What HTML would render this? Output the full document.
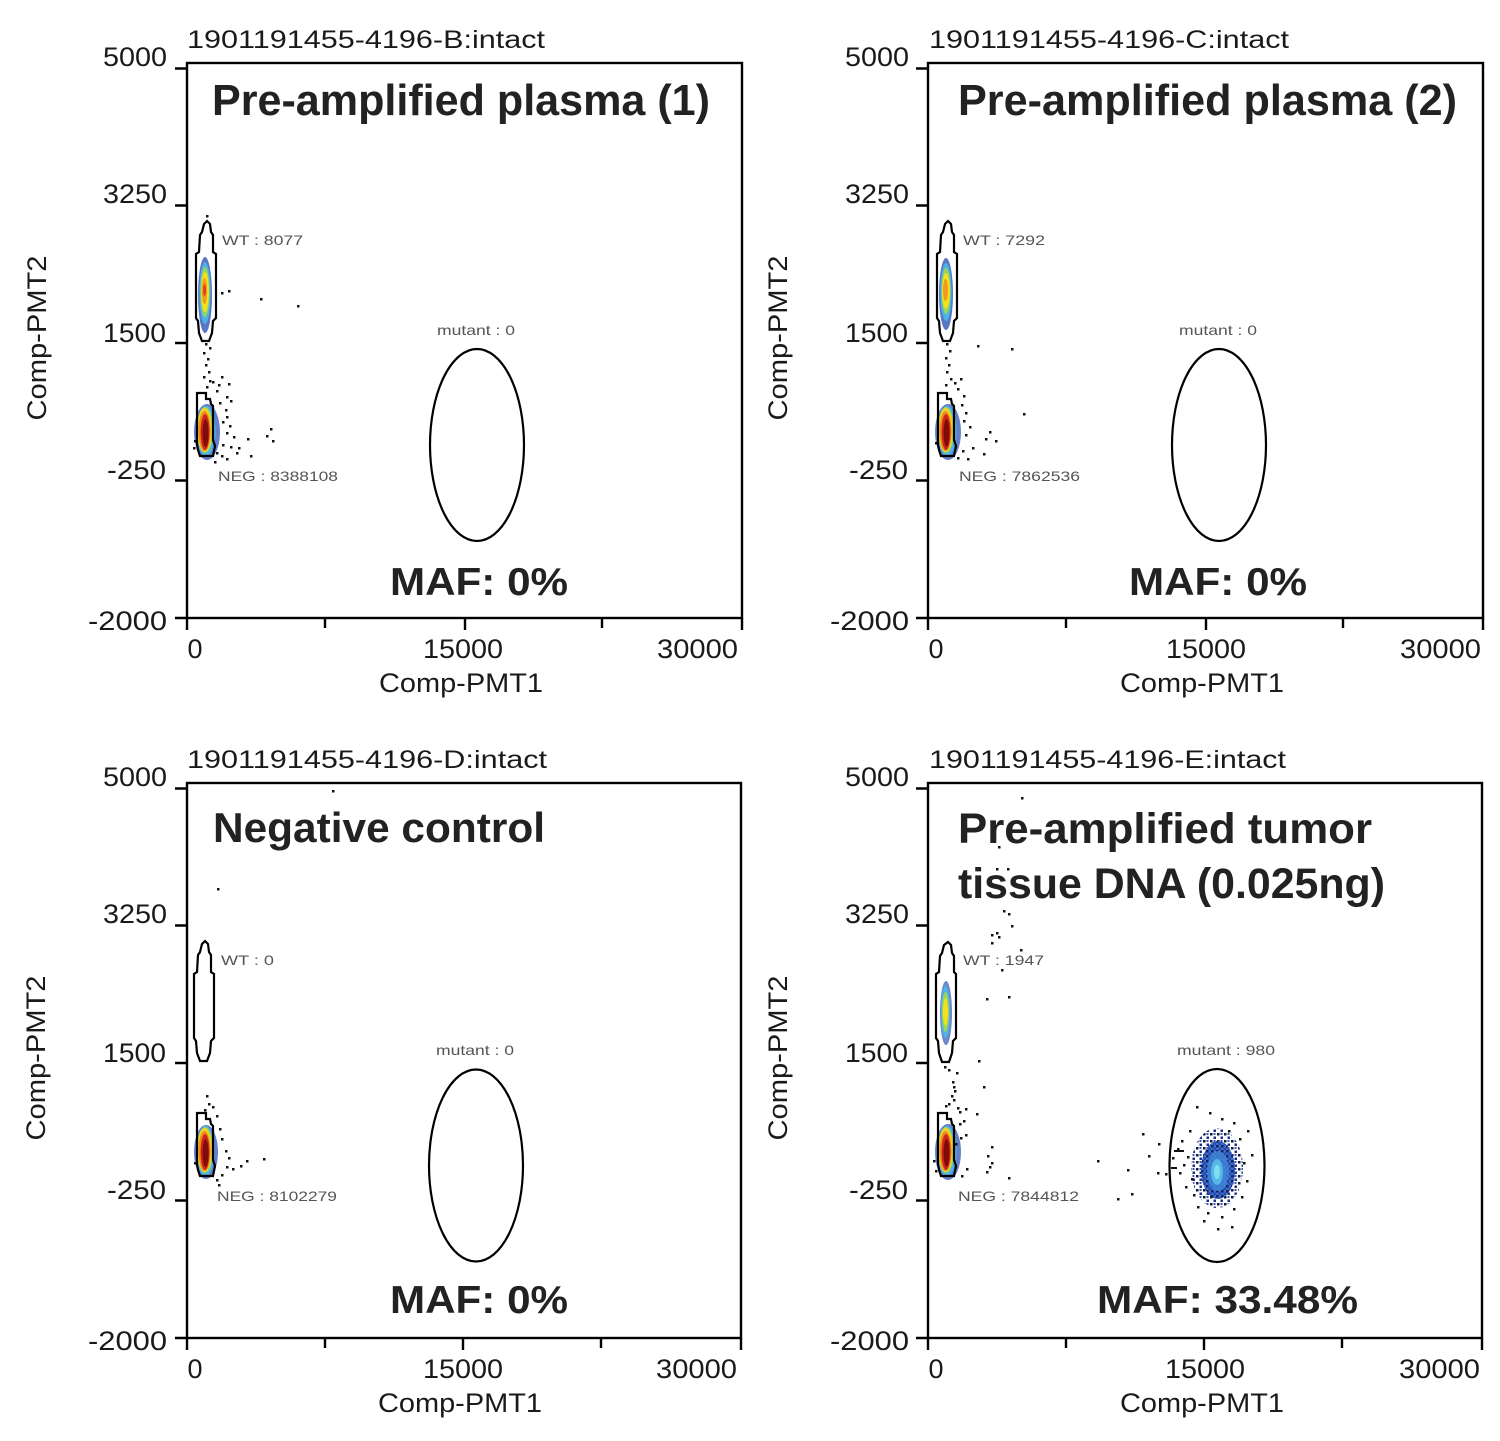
<!DOCTYPE html>
<html>
<head>
<meta charset="utf-8">
<style>
html,body{margin:0;padding:0;background:#fff;}
svg{display:block;}
.h{font-family:"Liberation Sans",sans-serif;font-size:25px;fill:#1a1a1a;}
.t{font-family:"Liberation Sans",sans-serif;font-size:27px;fill:#1a1a1a;}
.b{font-family:"Liberation Sans",sans-serif;font-weight:bold;font-size:44px;fill:#222;}
.m{font-family:"Liberation Sans",sans-serif;font-weight:bold;font-size:39px;fill:#222;}
.g{font-family:"Liberation Sans",sans-serif;font-size:14px;fill:#555;}
.ax{fill:none;stroke:#000;stroke-width:2.4;}
.gate{fill:none;stroke:#000;stroke-width:2.2;stroke-linejoin:miter;}
.d{fill:#111;}
</style>
</head>
<body>
<svg width="1500" height="1441" viewBox="0 0 1500 1441" xmlns="http://www.w3.org/2000/svg">
<defs>
<pattern id="pn" width="7" height="7" patternUnits="userSpaceOnUse">
<rect width="7" height="7" fill="#ffffff"/>
<rect x="0" y="0" width="2.5" height="2.5" fill="#111a40"/>
<rect x="3.5" y="3.5" width="2.5" height="2.5" fill="#1c2f8a"/>
<rect x="3.5" y="0" width="2" height="2" fill="#3456b8"/>
</pattern>
<pattern id="pb" width="5" height="5" patternUnits="userSpaceOnUse">
<rect width="5" height="5" fill="#3a6fd0"/>
<rect x="0" y="0" width="2.5" height="2.5" fill="#16215e"/>
<rect x="2.5" y="2.5" width="2.5" height="2.5" fill="#2a4aa8"/>
</pattern>
</defs>

<!-- ================= PANEL 1 (top-left) ================= -->
<g>
<text class="h" x="187" y="48" textLength="358" lengthAdjust="spacingAndGlyphs">1901191455-4196-B:intact</text>
<rect class="ax" x="187" y="63" width="555" height="555"/>
<path class="ax" d="M175 68.5H187M175 205.5H187M175 343H187M175 480.5H187M175 618H187M187 618V630M325 618V628M465 618V630M602 618V628M742 618V630"/>
<text class="t" x="167" y="66" text-anchor="end" textLength="64" lengthAdjust="spacingAndGlyphs">5000</text>
<text class="t" x="167" y="203" text-anchor="end" textLength="64" lengthAdjust="spacingAndGlyphs">3250</text>
<text class="t" x="166" y="342" text-anchor="end" textLength="63" lengthAdjust="spacingAndGlyphs">1500</text>
<text class="t" x="166" y="479" text-anchor="end" textLength="59" lengthAdjust="spacingAndGlyphs">-250</text>
<text class="t" x="167" y="630" text-anchor="end" textLength="79" lengthAdjust="spacingAndGlyphs">-2000</text>
<text class="t" x="195" y="658" text-anchor="middle">0</text>
<text class="t" x="463" y="658" text-anchor="middle" textLength="80" lengthAdjust="spacingAndGlyphs">15000</text>
<text class="t" x="738" y="658" text-anchor="end" textLength="81" lengthAdjust="spacingAndGlyphs">30000</text>
<text class="t" x="461" y="692" text-anchor="middle" textLength="164" lengthAdjust="spacingAndGlyphs">Comp-PMT1</text>
<text class="t" transform="translate(46 338) rotate(-90)" text-anchor="middle" textLength="165" lengthAdjust="spacingAndGlyphs">Comp-PMT2</text>
<text class="b" x="212" y="115" textLength="498" lengthAdjust="spacingAndGlyphs">Pre-amplified plasma (1)</text>
<text class="m" x="390" y="595" textLength="178" lengthAdjust="spacingAndGlyphs">MAF: 0%</text>
<!-- WT cluster -->
<ellipse cx="205" cy="295" rx="7" ry="38" fill="#2f55b5" opacity=".8"/>
<ellipse cx="205" cy="293" rx="5.5" ry="31" fill="#4cb5e6"/>
<ellipse cx="205" cy="292" rx="4.5" ry="25" fill="#9bd65a"/>
<ellipse cx="205" cy="292" rx="3.8" ry="20" fill="#f6e01c"/>
<ellipse cx="204.5" cy="291" rx="2.6" ry="13" fill="#f19a1b"/>
<ellipse cx="204.5" cy="290" rx="1.5" ry="6" fill="#e2421b"/>
<!-- NEG cluster -->
<ellipse cx="207" cy="432" rx="13" ry="28" fill="#2f55b5" opacity=".75"/>
<ellipse cx="206" cy="431" rx="9.5" ry="25" fill="#4cb5e6"/>
<ellipse cx="205" cy="430" rx="8" ry="23" fill="#a7d84f"/>
<ellipse cx="204.5" cy="430" rx="7" ry="22" fill="#f6d21c"/>
<ellipse cx="204.5" cy="431" rx="6" ry="20" fill="#ee8a1c"/>
<ellipse cx="205" cy="432" rx="4.5" ry="18" fill="#d0261a"/>
<ellipse cx="205.5" cy="433" rx="3" ry="14" fill="#7e0d08"/>
<path class="d" d="M206 215h2.5v2.5h-2.5zM221 292h2.5v2.5h-2.5zM228 290h2.5v2.5h-2.5zM260 298h2.5v2.5h-2.5zM297 305h2.5v2.5h-2.5zM205 343h2.5v2.5h-2.5zM209 347h2.5v2.5h-2.5zM203 352h2.5v2.5h-2.5zM207 358h2.5v2.5h-2.5zM205 364h2.5v2.5h-2.5zM208 371h2.5v2.5h-2.5zM203 376h2.5v2.5h-2.5zM209 380h2.5v2.5h-2.5zM206 386h2.5v2.5h-2.5zM212 381h2.5v2.5h-2.5zM218 384h2.5v2.5h-2.5zM221 376h2.5v2.5h-2.5zM228 383h2.5v2.5h-2.5zM216 390h2.5v2.5h-2.5zM226 396h2.5v2.5h-2.5zM230 400h2.5v2.5h-2.5zM219 402h2.5v2.5h-2.5zM225 409h2.5v2.5h-2.5zM226 416h2.5v2.5h-2.5zM222 421h2.5v2.5h-2.5zM229 425h2.5v2.5h-2.5zM226 432h2.5v2.5h-2.5zM233 436h2.5v2.5h-2.5zM238 447h2.5v2.5h-2.5zM247 438h2.5v2.5h-2.5zM222 444h2.5v2.5h-2.5zM230 446h2.5v2.5h-2.5zM216 452h2.5v2.5h-2.5zM221 455h2.5v2.5h-2.5zM226 458h2.5v2.5h-2.5zM214 461h2.5v2.5h-2.5zM250 455h2.5v2.5h-2.5zM266 435h2.5v2.5h-2.5zM270 428h2.5v2.5h-2.5zM272 440h2.5v2.5h-2.5zM194 440h2.5v2.5h-2.5zM193 447h2.5v2.5h-2.5zM236 452h2.5v2.5h-2.5z"/>
<path class="gate" d="M207,221 L210,224 L211,232 L213,235 L213,252 L216,254 L216,318 L213,321 L212,333 L209,341 L202,341 L199,333 L198,321 L196,318 L196,254 L199,252 L200,235 L202,232 L204,224 Z"/>
<path class="gate" d="M197,393 L206,393 L206,399 L210,399 L211,404 L213,406 L213,440 L215,446 L213,456 L200,456 L198,450 L197,444 Z"/>
<ellipse class="gate" cx="477" cy="445" rx="47" ry="96"/>
<text class="g" x="222" y="245" textLength="81" lengthAdjust="spacingAndGlyphs">WT : 8077</text>
<text class="g" x="476" y="335" text-anchor="middle" textLength="78" lengthAdjust="spacingAndGlyphs">mutant : 0</text>
<text class="g" x="218" y="481" textLength="120" lengthAdjust="spacingAndGlyphs">NEG : 8388108</text>
</g>

<!-- ================= PANEL 2 (top-right) ================= -->
<g transform="translate(741 0)">
<text class="h" x="188" y="48" textLength="360" lengthAdjust="spacingAndGlyphs">1901191455-4196-C:intact</text>
<rect class="ax" x="187" y="63" width="555" height="555"/>
<path class="ax" d="M175 68.5H187M175 205.5H187M175 343H187M175 480.5H187M175 618H187M187 618V630M325 618V628M465 618V630M602 618V628M742 618V630"/>
<text class="t" x="168" y="66" text-anchor="end" textLength="64" lengthAdjust="spacingAndGlyphs">5000</text>
<text class="t" x="168" y="203" text-anchor="end" textLength="64" lengthAdjust="spacingAndGlyphs">3250</text>
<text class="t" x="167" y="342" text-anchor="end" textLength="63" lengthAdjust="spacingAndGlyphs">1500</text>
<text class="t" x="167" y="479" text-anchor="end" textLength="59" lengthAdjust="spacingAndGlyphs">-250</text>
<text class="t" x="168" y="630" text-anchor="end" textLength="79" lengthAdjust="spacingAndGlyphs">-2000</text>
<text class="t" x="195" y="658" text-anchor="middle">0</text>
<text class="t" x="465" y="658" text-anchor="middle" textLength="80" lengthAdjust="spacingAndGlyphs">15000</text>
<text class="t" x="740" y="658" text-anchor="end" textLength="81" lengthAdjust="spacingAndGlyphs">30000</text>
<text class="t" x="461" y="692" text-anchor="middle" textLength="164" lengthAdjust="spacingAndGlyphs">Comp-PMT1</text>
<text class="t" transform="translate(46 338) rotate(-90)" text-anchor="middle" textLength="165" lengthAdjust="spacingAndGlyphs">Comp-PMT2</text>
<text class="b" x="217" y="115" textLength="499" lengthAdjust="spacingAndGlyphs">Pre-amplified plasma (2)</text>
<text class="m" x="388" y="595" textLength="178" lengthAdjust="spacingAndGlyphs">MAF: 0%</text>
<ellipse cx="205" cy="294" rx="7" ry="36" fill="#2f55b5" opacity=".8"/>
<ellipse cx="205" cy="292" rx="5.5" ry="29" fill="#4cb5e6"/>
<ellipse cx="205" cy="291" rx="4.5" ry="23" fill="#9bd65a"/>
<ellipse cx="205" cy="291" rx="3.8" ry="18" fill="#f6e01c"/>
<ellipse cx="204.5" cy="290" rx="2.5" ry="11" fill="#f19a1b"/>
<ellipse cx="207" cy="432" rx="13" ry="28" fill="#2f55b5" opacity=".75"/>
<ellipse cx="206" cy="431" rx="9.5" ry="25" fill="#4cb5e6"/>
<ellipse cx="205" cy="430" rx="8" ry="23" fill="#a7d84f"/>
<ellipse cx="204.5" cy="430" rx="7" ry="22" fill="#f6d21c"/>
<ellipse cx="204.5" cy="431" rx="6" ry="20" fill="#ee8a1c"/>
<ellipse cx="205" cy="432" rx="4.5" ry="18" fill="#d0261a"/>
<ellipse cx="205.5" cy="433" rx="3" ry="14" fill="#7e0d08"/>
<path class="d" d="M236 345h2.5v2.5h-2.5zM270 348h2.5v2.5h-2.5zM282 413h2.5v2.5h-2.5zM205 343h2.5v2.5h-2.5zM208 350h2.5v2.5h-2.5zM204 357h2.5v2.5h-2.5zM207 364h2.5v2.5h-2.5zM205 371h2.5v2.5h-2.5zM209 378h2.5v2.5h-2.5zM204 384h2.5v2.5h-2.5zM213 382h2.5v2.5h-2.5zM219 378h2.5v2.5h-2.5zM216 388h2.5v2.5h-2.5zM222 395h2.5v2.5h-2.5zM220 404h2.5v2.5h-2.5zM224 412h2.5v2.5h-2.5zM222 420h2.5v2.5h-2.5zM228 426h2.5v2.5h-2.5zM224 434h2.5v2.5h-2.5zM244 438h2.5v2.5h-2.5zM248 431h2.5v2.5h-2.5zM254 440h2.5v2.5h-2.5zM242 453h2.5v2.5h-2.5zM231 447h2.5v2.5h-2.5zM221 450h2.5v2.5h-2.5zM216 457h2.5v2.5h-2.5zM226 458h2.5v2.5h-2.5zM194 442h2.5v2.5h-2.5z"/>
<path class="gate" d="M207,221 L210,224 L211,232 L213,235 L213,252 L216,254 L216,318 L213,321 L212,333 L209,341 L202,341 L199,333 L198,321 L196,318 L196,254 L199,252 L200,235 L202,232 L204,224 Z"/>
<path class="gate" d="M197,393 L206,393 L206,399 L210,399 L211,404 L213,406 L213,440 L215,446 L213,456 L200,456 L198,450 L197,444 Z"/>
<ellipse class="gate" cx="478" cy="445" rx="47" ry="96"/>
<text class="g" x="222" y="245" textLength="82" lengthAdjust="spacingAndGlyphs">WT : 7292</text>
<text class="g" x="477" y="335" text-anchor="middle" textLength="78" lengthAdjust="spacingAndGlyphs">mutant : 0</text>
<text class="g" x="218" y="481" textLength="121" lengthAdjust="spacingAndGlyphs">NEG : 7862536</text>
</g>

<!-- ================= PANEL 3 (bottom-left) ================= -->
<g transform="translate(0 720)">
<text class="h" x="187" y="48" textLength="360" lengthAdjust="spacingAndGlyphs">1901191455-4196-D:intact</text>
<rect class="ax" x="187" y="63" width="554" height="555"/>
<path class="ax" d="M175 68.5H187M175 205.5H187M175 343H187M175 480.5H187M175 618H187M187 618V630M325 618V628M463 618V630M601 618V628M741 618V630"/>
<text class="t" x="167" y="66" text-anchor="end" textLength="64" lengthAdjust="spacingAndGlyphs">5000</text>
<text class="t" x="167" y="203" text-anchor="end" textLength="64" lengthAdjust="spacingAndGlyphs">3250</text>
<text class="t" x="166" y="342" text-anchor="end" textLength="63" lengthAdjust="spacingAndGlyphs">1500</text>
<text class="t" x="166" y="479" text-anchor="end" textLength="59" lengthAdjust="spacingAndGlyphs">-250</text>
<text class="t" x="167" y="630" text-anchor="end" textLength="79" lengthAdjust="spacingAndGlyphs">-2000</text>
<text class="t" x="195" y="658" text-anchor="middle">0</text>
<text class="t" x="463" y="658" text-anchor="middle" textLength="80" lengthAdjust="spacingAndGlyphs">15000</text>
<text class="t" x="737" y="658" text-anchor="end" textLength="81" lengthAdjust="spacingAndGlyphs">30000</text>
<text class="t" x="460" y="692" text-anchor="middle" textLength="164" lengthAdjust="spacingAndGlyphs">Comp-PMT1</text>
<text class="t" transform="translate(45 338) rotate(-90)" text-anchor="middle" textLength="165" lengthAdjust="spacingAndGlyphs">Comp-PMT2</text>
<text class="b" style="font-size:42px" x="213" y="122" textLength="332" lengthAdjust="spacingAndGlyphs">Negative control</text>
<text class="m" x="390" y="593" textLength="178" lengthAdjust="spacingAndGlyphs">MAF: 0%</text>
<ellipse cx="206" cy="432" rx="12" ry="27" fill="#2f55b5" opacity=".75"/>
<ellipse cx="205.5" cy="431" rx="9" ry="25" fill="#4cb5e6"/>
<ellipse cx="205" cy="430" rx="8" ry="23" fill="#a7d84f"/>
<ellipse cx="204.5" cy="430" rx="7" ry="22" fill="#f6d21c"/>
<ellipse cx="204.5" cy="431" rx="6" ry="20" fill="#ee8a1c"/>
<ellipse cx="205" cy="432" rx="4.5" ry="18" fill="#d0261a"/>
<ellipse cx="205.5" cy="433" rx="3" ry="14" fill="#7e0d08"/>
<path class="d" d="M332 70h2.5v2.5h-2.5zM217 168h2.5v2.5h-2.5zM206 375h2.5v2.5h-2.5zM208 383h2.5v2.5h-2.5zM204 389h2.5v2.5h-2.5zM212 386h2.5v2.5h-2.5zM216 395h2.5v2.5h-2.5zM219 408h2.5v2.5h-2.5zM221 418h2.5v2.5h-2.5zM225 430h2.5v2.5h-2.5zM228 437h2.5v2.5h-2.5zM232 448h2.5v2.5h-2.5zM240 445h2.5v2.5h-2.5zM246 440h2.5v2.5h-2.5zM263 438h2.5v2.5h-2.5zM221 454h2.5v2.5h-2.5zM216 459h2.5v2.5h-2.5zM218 464h2.5v2.5h-2.5zM194 442h2.5v2.5h-2.5zM226 446h2.5v2.5h-2.5z"/>
<path class="gate" d="M205,221 L208,224 L209,232 L211,235 L211,252 L214,254 L214,318 L211,321 L210,333 L207,341 L200,341 L197,333 L196,321 L194,318 L194,254 L197,252 L198,235 L200,232 L202,224 Z"/>
<path class="gate" d="M197,393 L206,393 L206,399 L210,399 L211,404 L213,406 L213,440 L215,446 L213,456 L200,456 L198,450 L197,444 Z"/>
<ellipse class="gate" cx="476" cy="445.5" rx="47" ry="96"/>
<text class="g" x="221" y="245" textLength="53" lengthAdjust="spacingAndGlyphs">WT : 0</text>
<text class="g" x="475" y="335" text-anchor="middle" textLength="78" lengthAdjust="spacingAndGlyphs">mutant : 0</text>
<text class="g" x="217" y="481" textLength="120" lengthAdjust="spacingAndGlyphs">NEG : 8102279</text>
</g>

<!-- ================= PANEL 4 (bottom-right) ================= -->
<g transform="translate(741 720)">
<text class="h" x="188" y="48" textLength="357" lengthAdjust="spacingAndGlyphs">1901191455-4196-E:intact</text>
<rect class="ax" x="187" y="63" width="554" height="555"/>
<path class="ax" d="M175 68.5H187M175 205.5H187M175 343H187M175 480.5H187M175 618H187M187 618V630M325 618V628M463 618V630M601 618V628M741 618V630"/>
<text class="t" x="168" y="66" text-anchor="end" textLength="64" lengthAdjust="spacingAndGlyphs">5000</text>
<text class="t" x="168" y="203" text-anchor="end" textLength="64" lengthAdjust="spacingAndGlyphs">3250</text>
<text class="t" x="167" y="342" text-anchor="end" textLength="63" lengthAdjust="spacingAndGlyphs">1500</text>
<text class="t" x="167" y="479" text-anchor="end" textLength="59" lengthAdjust="spacingAndGlyphs">-250</text>
<text class="t" x="168" y="630" text-anchor="end" textLength="79" lengthAdjust="spacingAndGlyphs">-2000</text>
<text class="t" x="195" y="658" text-anchor="middle">0</text>
<text class="t" x="464" y="658" text-anchor="middle" textLength="80" lengthAdjust="spacingAndGlyphs">15000</text>
<text class="t" x="739" y="658" text-anchor="end" textLength="81" lengthAdjust="spacingAndGlyphs">30000</text>
<text class="t" x="461" y="692" text-anchor="middle" textLength="164" lengthAdjust="spacingAndGlyphs">Comp-PMT1</text>
<text class="t" transform="translate(46 338) rotate(-90)" text-anchor="middle" textLength="165" lengthAdjust="spacingAndGlyphs">Comp-PMT2</text>
<text class="b" style="font-size:43px" x="217" y="123" textLength="414" lengthAdjust="spacingAndGlyphs">Pre-amplified tumor</text>
<text class="b" style="font-size:43px" x="217" y="178" textLength="427" lengthAdjust="spacingAndGlyphs">tissue DNA (0.025ng)</text>
<text class="m" x="356" y="593" textLength="261" lengthAdjust="spacingAndGlyphs">MAF: 33.48%</text>
<!-- WT cluster smaller -->
<ellipse cx="205" cy="293" rx="6" ry="32" fill="#2f55b5" opacity=".7"/>
<ellipse cx="204.5" cy="292" rx="4.5" ry="26" fill="#4cb5e6"/>
<ellipse cx="204.5" cy="292" rx="3.5" ry="20" fill="#9bd65a"/>
<ellipse cx="204.5" cy="292" rx="2.5" ry="14" fill="#f6e01c"/>
<!-- NEG cluster -->
<ellipse cx="207" cy="432" rx="13" ry="28" fill="#2f55b5" opacity=".75"/>
<ellipse cx="206" cy="431" rx="9.5" ry="25" fill="#4cb5e6"/>
<ellipse cx="205" cy="430" rx="8" ry="23" fill="#a7d84f"/>
<ellipse cx="204.5" cy="430" rx="7" ry="22" fill="#f6d21c"/>
<ellipse cx="204.5" cy="431" rx="6" ry="20" fill="#ee8a1c"/>
<ellipse cx="205" cy="432" rx="4.5" ry="18" fill="#d0261a"/>
<ellipse cx="205.5" cy="433" rx="3" ry="14" fill="#7e0d08"/>
<!-- mutant cluster (textured) -->
<ellipse cx="476" cy="448" rx="26" ry="40" fill="url(#pn)"/>
<ellipse cx="477" cy="450" rx="17" ry="29" fill="url(#pb)"/>
<ellipse cx="477" cy="451" rx="11" ry="20" fill="#3f86d8" opacity=".85"/>
<ellipse cx="476" cy="452" rx="6" ry="13" fill="#55b8e6"/>
<ellipse cx="476" cy="452" rx="3" ry="7" fill="#7ee0ea"/>
<path class="d" d="M280 77h2.5v2.5h-2.5zM257 126h2.5v2.5h-2.5zM255 148h2.5v2.5h-2.5zM266 148h2.5v2.5h-2.5zM262 190h2.5v2.5h-2.5zM267 193h2.5v2.5h-2.5zM270 205h2.5v2.5h-2.5zM250 214h2.5v2.5h-2.5zM255 212h2.5v2.5h-2.5zM257 216h2.5v2.5h-2.5zM250 222h2.5v2.5h-2.5zM279 229h2.5v2.5h-2.5zM260 249h2.5v2.5h-2.5zM245 278h2.5v2.5h-2.5zM267 276h2.5v2.5h-2.5zM237 340h2.5v2.5h-2.5zM242 366h2.5v2.5h-2.5zM235 393h2.5v2.5h-2.5zM250 426h2.5v2.5h-2.5zM246 435h2.5v2.5h-2.5zM250 442h2.5v2.5h-2.5zM248 446h2.5v2.5h-2.5zM245 451h2.5v2.5h-2.5zM267 457h2.5v2.5h-2.5zM203 346h2.5v2.5h-2.5zM207 349h2.5v2.5h-2.5zM215 352h2.5v2.5h-2.5zM211 361h2.5v2.5h-2.5zM212 366h2.5v2.5h-2.5zM213 370h2.5v2.5h-2.5zM210 375h2.5v2.5h-2.5zM212 379h2.5v2.5h-2.5zM207 383h2.5v2.5h-2.5zM204 385h2.5v2.5h-2.5zM216 387h2.5v2.5h-2.5zM224 388h2.5v2.5h-2.5zM218 391h2.5v2.5h-2.5zM222 400h2.5v2.5h-2.5zM218 403h2.5v2.5h-2.5zM224 414h2.5v2.5h-2.5zM219 417h2.5v2.5h-2.5zM214 423h2.5v2.5h-2.5zM192 440h2.5v2.5h-2.5zM194 450h2.5v2.5h-2.5zM225 448h2.5v2.5h-2.5zM220 455h2.5v2.5h-2.5zM356 440h2.5v2.5h-2.5zM386 449h2.5v2.5h-2.5zM401 413h2.5v2.5h-2.5zM407 435h2.5v2.5h-2.5zM417 423h2.5v2.5h-2.5zM416 452h2.5v2.5h-2.5zM424 453h2.5v2.5h-2.5zM376 478h2.5v2.5h-2.5zM390 473h2.5v2.5h-2.5zM455 386h2.5v2.5h-2.5zM468 392h2.5v2.5h-2.5zM480 398h2.5v2.5h-2.5zM492 402h2.5v2.5h-2.5zM448 410h2.5v2.5h-2.5zM440 420h2.5v2.5h-2.5zM436 428h2.5v2.5h-2.5zM446 436h2.5v2.5h-2.5zM442 444h2.5v2.5h-2.5zM450 458h2.5v2.5h-2.5zM444 466h2.5v2.5h-2.5zM452 474h2.5v2.5h-2.5zM456 486h2.5v2.5h-2.5zM466 492h2.5v2.5h-2.5zM480 496h2.5v2.5h-2.5zM492 488h2.5v2.5h-2.5zM500 476h2.5v2.5h-2.5zM505 460h2.5v2.5h-2.5zM502 442h2.5v2.5h-2.5zM510 434h2.5v2.5h-2.5zM498 418h2.5v2.5h-2.5zM487 410h2.5v2.5h-2.5zM506 410h2.5v2.5h-2.5zM476 508h2.5v2.5h-2.5zM490 506h2.5v2.5h-2.5zM462 500h2.5v2.5h-2.5zM438 452h2.5v2.5h-2.5zM431 437h2.5v2.5h-2.5zM430 447h6v2h-6zM433 430h10v2h-10z"/>
<path class="gate" d="M207,222 L210,225 L211,233 L213,236 L213,252 L215,254 L215,318 L212,321 L211,333 L208,342 L201,342 L198,333 L197,321 L195,318 L195,254 L198,252 L199,236 L201,233 L203,225 Z"/>
<path class="gate" d="M197,393 L206,393 L206,399 L210,399 L211,404 L213,406 L213,440 L215,446 L213,456 L200,456 L198,450 L197,444 Z"/>
<ellipse class="gate" cx="476" cy="445.5" rx="47.5" ry="96.5"/>
<text class="g" x="222" y="245" textLength="81" lengthAdjust="spacingAndGlyphs">WT : 1947</text>
<text class="g" x="485" y="335" text-anchor="middle" textLength="98" lengthAdjust="spacingAndGlyphs">mutant : 980</text>
<text class="g" x="217" y="481" textLength="121" lengthAdjust="spacingAndGlyphs">NEG : 7844812</text>
</g>

</svg>
</body>
</html>
